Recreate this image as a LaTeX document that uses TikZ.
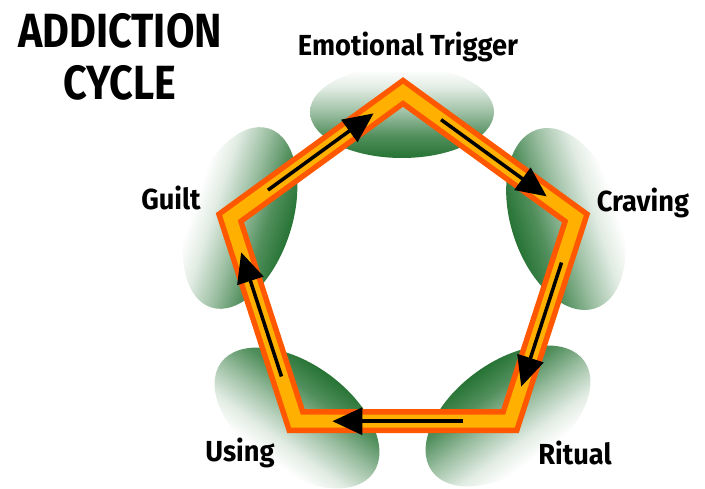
\documentclass[tikz,border=0pt]{standalone}
\usepackage{fontspec}
\setmainfont{Fira Sans}
\newfontfamily\stagefont[FakeStretch=0.94]{Fira Sans}
\newfontfamily\headfont[FakeStretch=0.86]{Fira Sans}
\usetikzlibrary{arrows.meta,calc}
\definecolor{bandorange}{RGB}{255,88,0}
\definecolor{bandyellow}{RGB}{255,176,0}
\definecolor{blobgreen}{RGB}{38,115,52}
\pgfdeclareverticalshading{blobfade}{100bp}{color(0bp)=(blobgreen); color(25bp)=(blobgreen); color(37bp)=(blobgreen!80); color(50bp)=(blobgreen!45); color(63bp)=(blobgreen!14); color(73bp)=(white); color(100bp)=(white)}
\tikzset{stage/.style={font=\stagefont\bfseries\fontsize{29}{33}\selectfont,inner sep=0pt,anchor=base},heading/.style={font=\headfont\bfseries\fontsize{48}{52}\selectfont,inner sep=0pt,anchor=base},blob/.style={shading=blobfade},outerband/.style={draw=bandorange,line width=24pt,line join=miter},innerband/.style={draw=bandyellow,line width=13pt,line join=miter},flow/.style={-{Triangle[length=30pt,width=27pt]},line width=3.5pt,black}}

\begin{document}
\begin{tikzpicture}[x=1pt,y=1pt]
\useasboundingbox (0,0) rectangle (705,489);
\coordinate (hub) at (403,215);
\coordinate (trig) at ($(hub)+(90:182)$);
\coordinate (crav) at ($(hub)+(18:182)$);
\coordinate (ritl) at ($(hub)+(-54:182)$);
\coordinate (usng) at ($(hub)+(-126:182)$);
\coordinate (gilt) at ($(hub)+(162:182)$);
\shade[blob] (402,377) ellipse [x radius=92,y radius=46];
\shade[blob,transform canvas={rotate around={-72:(566,270)}}] (566,270) ellipse [x radius=94,y radius=55];
\shade[blob,transform canvas={rotate around={-144:(508,73)}}] (508,73) ellipse [x radius=94,y radius=54];
\shade[blob,transform canvas={rotate around={144:(297,71)}}] (297,71) ellipse [x radius=94,y radius=54];
\shade[blob,transform canvas={rotate around={72:(240,271)}}] (240,271) ellipse [x radius=94,y radius=52];
\draw[outerband] (trig)--(crav)--(ritl)--(usng)--(gilt)--cycle;
\draw[innerband] (trig)--(crav)--(ritl)--(usng)--(gilt)--cycle;
\draw[flow] ($(trig)!0.22!(crav)$)--($(trig)!0.83!(crav)$);
\draw[flow] ($(crav)!0.22!(ritl)$)--($(crav)!0.83!(ritl)$);
\draw[flow] ($(ritl)!0.22!(usng)$)--($(ritl)!0.83!(usng)$);
\draw[flow] ($(usng)!0.22!(gilt)$)--($(usng)!0.83!(gilt)$);
\draw[flow] ($(gilt)!0.22!(trig)$)--($(gilt)!0.83!(trig)$);
\node[heading] (title1) at (120,441) {ADDICTION};
\node[heading] (title2) at (120,389) {CYCLE};
\node[stage] (trigger) at (408,433) {Emotional Trigger};
\node[stage] (craving) at (643,277) {Craving};
\node[stage] (ritual) at (575,24) {Ritual};
\node[stage] (using) at (240,27) {Using};
\node[stage] (guilt) at (171,279) {Guilt};
\end{tikzpicture}
\end{document}
